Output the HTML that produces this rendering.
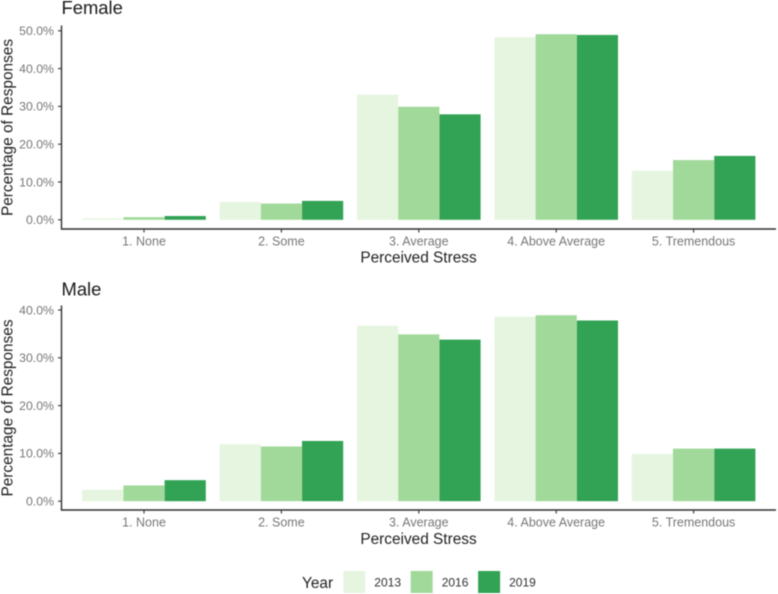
<!DOCTYPE html>
<html lang="en">
<head>
<meta charset="utf-8">
<title>Perceived Stress by Gender and Year</title>
<style>
html,body{margin:0;padding:0;background:#fff;}
body{width:778px;height:594px;overflow:hidden;}
svg{display:block;font-family:"Liberation Sans",Arial,sans-serif;}
</style>
</head>
<body>
<svg id="chart" xmlns="http://www.w3.org/2000/svg" width="778" height="594" viewBox="0 0 778 594">
<defs><filter id="soft" x="-2%" y="-2%" width="104%" height="104%"><feGaussianBlur stdDeviation="0.4"/></filter></defs>
<rect width="778" height="594" fill="#fff"/>
<g id="root" filter="url(#soft)"></g>
</svg>
<script>
const categories = ["1. None", "2. Some", "3. Average", "4. Above Average", "5. Tremendous"];
const years = ["2013", "2016", "2019"];
const yearColors = ["#e5f5e0", "#a1d99b", "#31a354"];

const female2013 = [0.4, 4.7, 33.1, 48.3, 13.0];
const female2016 = [0.7, 4.3, 29.9, 49.1, 15.8];
const female2019 = [1.0, 5.0, 27.9, 48.9, 16.9];
const femaleTicks = [0, 10, 20, 30, 40, 50];

const male2013 = [2.4, 11.9, 36.7, 38.6, 9.9];
const male2016 = [3.3, 11.45, 34.9, 38.9, 11.0];
const male2019 = [4.4, 12.6, 33.8, 37.8, 11.0];
const maleTicks = [0, 10, 20, 30, 40];

const NS = "http://www.w3.org/2000/svg";
const root = document.getElementById("root");

function make(tag, attrs, parent, text) {
  const el = document.createElementNS(NS, tag);
  for (const k in attrs) el.setAttribute(k, attrs[k]);
  if (text !== undefined) el.textContent = text;
  parent.appendChild(el);
  return el;
}

const xFirst = 144, xStep = 137.4, groupWidth = 123.6;
function xCenter(i) { return xFirst + i * xStep; }

function drawPanel(opts) {
  const prefix = opts.prefix;
  const y = function (v) { return opts.zeroY - v * opts.pxPerUnit; };
  const g = make("g", {}, root);
  
  

  const title = make("text", {x: 61.5, y: opts.titleY, "font-size": 18.4, fill: "#1a1a1a"}, g, opts.title);
  
  

  const barWidth = groupWidth / opts.series.length;
  opts.series.forEach(function (vals, s) {
    vals.forEach(function (v, i) {
      const x0 = xCenter(i) - groupWidth / 2 + s * barWidth;
      const bar = make("rect", {x: x0, y: y(v), width: barWidth, height: y(0) - y(v), fill: yearColors[s]}, g);
      
      
    });
  });

  const yAxis = make("line", {x1: 61.5, x2: 61.5, y1: opts.axisTop, y2: opts.axisBottom + 0.7, stroke: "#333", "stroke-width": 1.4}, g);
  
  
  const xAxis = make("line", {x1: 61.5, x2: 776, y1: opts.axisBottom, y2: opts.axisBottom, stroke: "#333", "stroke-width": 1.4}, g);
  
  

  opts.ticks.forEach(function (t) {
    const tick = make("line", {x1: 58, x2: 61, y1: y(t), y2: y(t), stroke: "#333", "stroke-width": 1.1}, g);
    
    
    const label = make("text", {x: 54, y: y(t) + 4.3, "font-size": 12.3, "text-anchor": "end", fill: "#777"}, g, t.toFixed(1) + "%");
    
    
  });

  categories.forEach(function (c, i) {
    const tick = make("line", {x1: xCenter(i), x2: xCenter(i), y1: opts.axisBottom, y2: opts.axisBottom + 3.5, stroke: "#333", "stroke-width": 1.1}, g);
    
    
    const label = make("text", {x: xCenter(i), y: opts.axisBottom + 16.6, "font-size": 12.5, "text-anchor": "middle", fill: "#777"}, g, c);
    
    
  });

  const xTitle = make("text", {x: 418.5, y: opts.xTitleY, "font-size": 15.4, "text-anchor": "middle", fill: "#222"}, g, "Perceived Stress");
  
  

  const yMid = opts.yTitleMid;
  const yTitle = make("text", {x: 0, y: 0, transform: "translate(12.5," + yMid + ") rotate(-90)", "font-size": 15.4, "text-anchor": "middle", fill: "#222"}, g, "Percentage of Responses");
  
  
}

drawPanel({
  prefix: "female", title: "Female", titleY: 14, xTitleY: 262.3,
  zeroY: 219.8, pxPerUnit: 3.78, axisTop: 25.5, axisBottom: 229,
  ticks: femaleTicks, series: [female2013, female2016, female2019], yTitleMid: 127.5
});
drawPanel({
  prefix: "male", title: "Male", titleY: 295.5, xTitleY: 543.8,
  zeroY: 501.2, pxPerUnit: 4.78, axisTop: 305.5, axisBottom: 510,
  ticks: maleTicks, series: [male2013, male2016, male2019], yTitleMid: 408
});

const legend = make("g", {}, root);


const legendTitle = make("text", {x: 302, y: 588, "font-size": 15.4, fill: "#222"}, legend, "Year");


years.forEach(function (yr, i) {
  const x0 = 343.3 + i * 67.4;
  const swatch = make("rect", {x: x0, y: 571, width: 22, height: 22, fill: yearColors[i]}, legend);
  
  
  const label = make("text", {x: x0 + 31, y: 586.5, "font-size": 12, fill: "#333"}, legend, yr);
  
  
});
</script>
</body>
</html>
